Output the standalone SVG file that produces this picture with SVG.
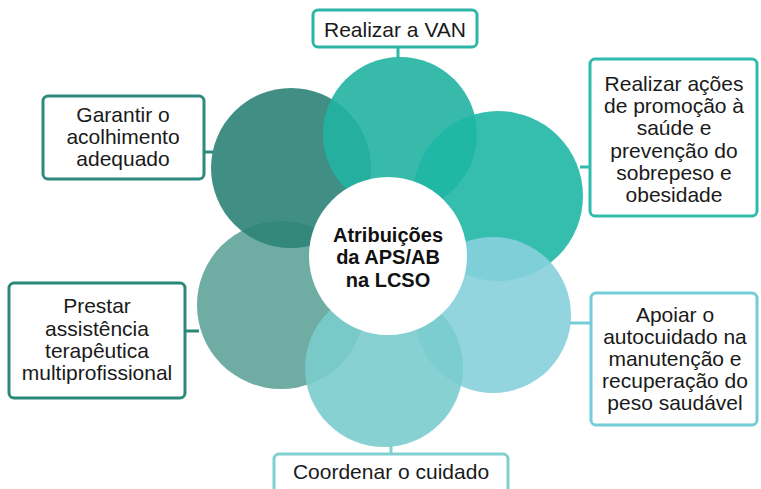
<svg xmlns="http://www.w3.org/2000/svg" width="761" height="489" viewBox="0 0 761 489">
<style>
.box{fill:#fff;stroke-width:3}
.lbl{font-family:"Liberation Sans",Arial,sans-serif;font-size:21px;fill:#1a1a1a;text-anchor:middle}
.ctr{font-family:"Liberation Sans",Arial,sans-serif;font-size:20px;font-weight:bold;fill:#111;text-anchor:middle}
.petal{opacity:0.9}
.con{stroke-width:3;fill:none}
</style>
<rect width="761" height="489" fill="#fff"/>
<g id="connectors">
<line class="con" x1="398" y1="47" x2="398" y2="58" stroke="#2db5a5"/>
<line class="con" x1="580" y1="167" x2="590" y2="167" stroke="#2fbcad"/>
<line class="con" x1="204" y1="152" x2="213" y2="152" stroke="#2e8a7e"/>
<line class="con" x1="185" y1="331" x2="199" y2="331" stroke="#2a8878"/>
<line class="con" x1="569" y1="323" x2="591" y2="323" stroke="#72cdd8"/>
<line class="con" x1="391" y1="446" x2="391" y2="454" stroke="#80d0d0"/>
</g>
<g id="petals">
<circle class="petal" cx="281" cy="305" r="84" fill="#5fa399"/>
<circle class="petal" cx="291" cy="168" r="80" fill="#2c8377"/>
<circle class="petal" cx="400" cy="134" r="77" fill="#22b3a2"/>
<circle class="petal" cx="498" cy="196" r="85" fill="#1fb7a5"/>
<circle class="petal" cx="493" cy="315" r="78" fill="#86d0db"/>
<circle class="petal" cx="384" cy="368" r="79" fill="#7acccd"/>
</g>
<g id="center">
<circle cx="388" cy="256" r="79" fill="#fff"/>
<text class="ctr" x="388" y="242">Atribuições</text>
<text class="ctr" x="388" y="264">da APS/AB</text>
<text class="ctr" x="388" y="287">na LCSO</text>
</g>
<g id="node-van">
<rect class="box" x="313" y="10" width="164" height="37" rx="5" stroke="#2db5a5"/>
<text class="lbl" x="395" y="37">Realizar a VAN</text>
</g>
<g id="node-promocao">
<rect class="box" x="590" y="59" width="167" height="157" rx="5" stroke="#2fbcad"/>
<text class="lbl" x="674" y="91">Realizar ações</text>
<text class="lbl" x="674" y="113">de promoção à</text>
<text class="lbl" x="674" y="135">saúde e</text>
<text class="lbl" x="674" y="158">prevenção do</text>
<text class="lbl" x="674" y="180">sobrepeso e</text>
<text class="lbl" x="674" y="202">obesidade</text>
</g>
<g id="node-acolhimento">
<rect class="box" x="43" y="96" width="161" height="83" rx="5" stroke="#2e8a7e"/>
<text class="lbl" x="123" y="122">Garantir o</text>
<text class="lbl" x="123" y="144">acolhimento</text>
<text class="lbl" x="123" y="166">adequado</text>
</g>
<g id="node-assistencia">
<rect class="box" x="9" y="283" width="176" height="115" rx="5" stroke="#2a8878"/>
<text class="lbl" x="97" y="313">Prestar</text>
<text class="lbl" x="97" y="336">assistência</text>
<text class="lbl" x="97" y="358">terapêutica</text>
<text class="lbl" x="97" y="380">multiprofissional</text>
</g>
<g id="node-autocuidado">
<rect class="box" x="591" y="293" width="166" height="132" rx="5" stroke="#72cdd8"/>
<text class="lbl" x="675" y="322">Apoiar o</text>
<text class="lbl" x="675" y="344">autocuidado na</text>
<text class="lbl" x="675" y="366">manutenção e</text>
<text class="lbl" x="675" y="388">recuperação do</text>
<text class="lbl" x="675" y="410">peso saudável</text>
</g>
<g id="node-coordenar">
<rect class="box" x="274" y="454" width="234" height="45" rx="5" stroke="#80d0d0"/>
<text class="lbl" x="391" y="479">Coordenar o cuidado</text>
</g>
</svg>
